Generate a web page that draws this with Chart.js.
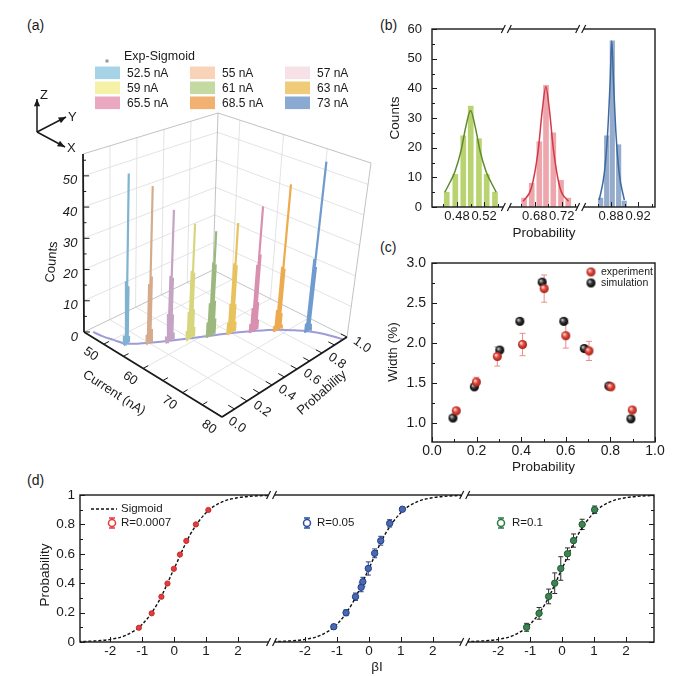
<!DOCTYPE html>
<html>
<head>
<meta charset="utf-8">
<title>Switching probability figure</title>
<script src="https://cdn.jsdelivr.net/npm/chart.js@4.4.1/dist/chart.umd.min.js"></script>
<style>
  html, body { margin: 0; padding: 0; background: #fff; }
  body { position: relative; width: 700px; height: 676px; overflow: hidden;
         font-family: "Liberation Sans", Arial, sans-serif; color: #1a1a1a; }
  canvas { position: absolute; }
  .tag { position: absolute; font-size: 14px; }
</style>
</head>
<body>
<div class="tag" style="left:27px;top:17px">(a)</div>
<div class="tag" style="left:380px;top:17px">(b)</div>
<div class="tag" style="left:380px;top:239px">(c)</div>
<div class="tag" style="left:27px;top:472px">(d)</div>
<canvas id="chartA" width="380" height="455" style="left:0;top:0"></canvas>
<canvas id="chartB" width="320" height="240" style="left:380px;top:0"></canvas>
<canvas id="chartC" width="320" height="240" style="left:380px;top:240px"></canvas>
<canvas id="chartD" width="700" height="211" style="left:0;top:465px"></canvas>
<script>
var FONT = '"Liberation Sans", Arial, sans-serif';
var INK = '#1a1a1a';

// ---------- (a) histograms per drive current ----------
var currents = [52.5, 55, 57, 59, 61, 63, 65.5, 68.5, 73];
var currentNames = ['52.5 nA', '55 nA', '57 nA', '59 nA', '61 nA', '63 nA', '65.5 nA', '68.5 nA', '73 nA'];
var meanProb = [0.1, 0.2, 0.3, 0.4, 0.5, 0.6, 0.7, 0.8, 0.9];
var spikeCounts = [
  [3, 20, 54, 18, 2],
  [3, 19, 50, 21, 4],
  [2, 9, 21, 42, 20, 8, 2],
  [3, 9, 22, 37, 21, 9, 3],
  [5, 11, 24, 34, 23, 11, 5],
  [4, 10, 23, 36, 22, 9, 3],
  [3, 8, 22, 41, 25, 9, 3],
  [2, 7, 21, 48, 20, 5, 1],
  [3, 24, 56, 21, 2]
];
var sigCurrent = [46, 48, 50, 52.5, 55, 57, 59, 61, 63, 65.5, 68.5, 71, 73, 76, 80];
var sigProb = [0.04, 0.05, 0.07, 0.1, 0.2, 0.3, 0.4, 0.5, 0.6, 0.7, 0.8, 0.86, 0.9, 0.94, 0.97];
var countTicks = [0, 10, 20, 30, 40, 50];
var currentTicks = [50, 60, 70, 80];
var probTicks = [0, 0.2, 0.4, 0.6, 0.8, 1];
var probTickLabels = ['0.0', '0.2', '0.4', '0.6', '0.8', '1.0'];

// ---------- (b) three histograms with fits ----------
var probGreen = [0.4648, 0.4775, 0.4893, 0.5003, 0.5125, 0.5239, 0.5362];
var countGreen = [5, 11, 24, 34, 23, 11, 5];
var probRed = [0.6642, 0.6756, 0.6868, 0.6967, 0.7075, 0.7189, 0.7297];
var countRed = [3, 8, 22, 41, 25, 9, 3];
var probBlue = [0.8646, 0.8735, 0.8818, 0.8912, 0.8995];
var countBlue = [3, 24, 56, 21, 2];
var fitGreenX = [0.462, 0.470, 0.477, 0.486, 0.493, 0.500, 0.507, 0.514, 0.523, 0.530, 0.538];
var fitGreenY = [5, 8.5, 12, 19, 27, 32.5, 27, 19, 12, 8.5, 5];
var fitRedX = [0.663, 0.675, 0.6852, 0.6913, 0.6965, 0.7017, 0.7078, 0.7175, 0.730];
var fitRedY = [1.9, 6.4, 19.2, 32.8, 40.5, 32.8, 19.2, 6.4, 1.9];
var fitBlueX = [0.8624, 0.870, 0.8749, 0.8785, 0.881, 0.8837, 0.8872, 0.892, 0.8996];
var fitBlueY = [2.3, 11.4, 24.9, 41.7, 56, 41.7, 24.9, 11.4, 2.3];
var bTicks = [0.48, 0.52, 0.68, 0.72, 0.88, 0.92];
var bTickLabels = ['0.48', '0.52', '0.68', '0.72', '0.88', '0.92'];
var bCountTicks = [0, 10, 20, 30, 40, 50, 60];

// ---------- (c) width vs probability ----------
var expProb = [0.109, 0.199, 0.293, 0.406, 0.503, 0.600, 0.704, 0.802, 0.898];
var expWidth = [1.15, 1.51, 1.83, 1.98, 2.68, 2.09, 1.90, 1.45, 1.16];
var expErr = [0, 0.06, 0.12, 0.14, 0.17, 0.155, 0.12, 0, 0];
var simProb = [0.094, 0.190, 0.304, 0.394, 0.494, 0.591, 0.683, 0.793, 0.892];
var simWidth = [1.06, 1.45, 1.91, 2.27, 2.76, 2.27, 1.93, 1.46, 1.05];
var cProbTicks = [0, 0.2, 0.4, 0.6, 0.8, 1];
var cWidthTicks = [1, 1.5, 2, 2.5, 3];

// ---------- (d) probability vs beta*I ----------
var sigX = [-3, -2.5, -2, -1.5, -1, -0.5, 0, 0.5, 1, 1.5, 2, 2.5, 3];
var sigP = [0.003, 0.007, 0.018, 0.047, 0.12, 0.27, 0.5, 0.73, 0.88, 0.953, 0.982, 0.993, 0.997];
var redX = [-1.105, -0.705, -0.40, -0.21, -0.01, 0.18, 0.38, 0.68, 1.07];
var redY = [0.097, 0.195, 0.308, 0.398, 0.498, 0.595, 0.688, 0.80, 0.898];
var blueX = [-1.10, -0.716, -0.42, -0.243, -0.19, -0.02, 0.18, 0.37, 0.65, 1.05];
var blueY = [0.104, 0.199, 0.308, 0.372, 0.41, 0.50, 0.603, 0.689, 0.807, 0.903];
var blueErr = [0.012, 0.02, 0.025, 0.03, 0.03, 0.045, 0.03, 0.03, 0.025, 0.012];
var greenX = [-1.11, -0.72, -0.42, -0.23, -0.04, 0.17, 0.36, 0.63, 1.02];
var greenY = [0.10, 0.195, 0.31, 0.40, 0.50, 0.60, 0.69, 0.80, 0.90];
var greenErr = [0.027, 0.04, 0.05, 0.07, 0.08, 0.04, 0.045, 0.035, 0.025];
var dXTicks = [-2, -1, 0, 1, 2];
var dPTicks = [0, 0.2, 0.4, 0.6, 0.8, 1];
var dPLabels = ['0', '0.2', '0.4', '0.6', '0.8', '1'];

// ---------- styles ----------
var spikeColors = ['#7fb3cf', '#d6ab8c', '#c4a3c4', '#d8d67c', '#9cb87e', '#e8c25c', '#d98fae', '#eeaa4e', '#6f9bcf'];
var legendColors = ['#a6d4e6', '#f8d3b8', '#f5e1e6', '#f5f2a8', '#c5d9a2', '#f0cb78', '#eaa8c0', '#f2b071', '#8aaad4'];

Chart.defaults.font.family = FONT;

function baseOptions(pad, xr, yr, yReverse) {
  return {
    responsive: false, animation: false, events: [],
    layout: { padding: pad },
    plugins: { legend: { display: false }, tooltip: { enabled: false } },
    scales: {
      x: { type: 'linear', display: false, min: xr[0], max: xr[1], offset: false },
      y: { type: 'linear', display: false, min: yr[0], max: yr[1], reverse: !!yReverse }
    }
  };
}

// frame + inward ticks + labels, shared by (b), (c), (d)
function frame(o) {
  return {
    id: 'frame',
    beforeDatasetsDraw: function (chart) { if (o.under) o.under(chart, chart.ctx); },
    afterDatasetsDraw: function (chart) {
      var c = chart.ctx, a = chart.chartArea, sx = chart.scales.x, sy = chart.scales.y;
      c.save();
      c.strokeStyle = INK; c.fillStyle = INK;
      c.lineWidth = 1.4;
      c.strokeRect(a.left, a.top, a.right - a.left, a.bottom - a.top);
      c.lineWidth = 1; c.beginPath();
      function yt(v, len) {
        var y = Math.round(sy.getPixelForValue(v)) + 0.5;
        c.moveTo(a.left, y); c.lineTo(a.left + len, y);
        if (o.right) { c.moveTo(a.right, y); c.lineTo(a.right - len, y); }
      }
      function xt(u, len) {
        var x = Math.round(sx.getPixelForValue(u)) + 0.5;
        c.moveTo(x, a.bottom); c.lineTo(x, a.bottom - len);
      }
      o.yTicks.forEach(function (v) { yt(v, 5); });
      (o.yMinor || []).forEach(function (v) { yt(v, 3); });
      o.xTicks.forEach(function (t) { xt(t[0], 5); });
      (o.xMinor || []).forEach(function (u) { xt(u, 3); });
      c.stroke();
      (o.breaks || []).forEach(function (u) {
        var x = sx.getPixelForValue(u);
        [a.top, a.bottom].forEach(function (y) {
          c.fillStyle = '#fff'; c.fillRect(x - 3, y - 3, 6, 6);
          c.beginPath();
          c.moveTo(x - 5, y + 4); c.lineTo(x - 1, y - 4);
          c.moveTo(x + 1, y + 4); c.lineTo(x + 5, y - 4);
          c.lineWidth = 1.2; c.stroke();
        });
      });
      c.fillStyle = INK;
      c.font = o.tickFont; c.textAlign = 'right'; c.textBaseline = 'middle';
      o.yTicks.forEach(function (v, i) { c.fillText(o.yLabels[i], a.left - o.yGap, sy.getPixelForValue(v)); });
      c.textAlign = 'center'; c.textBaseline = 'top';
      o.xTicks.forEach(function (t) { c.fillText(t[1], sx.getPixelForValue(t[0]), a.bottom + o.xGap); });
      c.font = o.titleFont; c.textBaseline = 'middle';
      c.fillText(o.xTitle[0], o.xTitle[1], o.xTitle[2]);
      c.save(); c.translate(o.yTitle[1], o.yTitle[2]); c.rotate(-Math.PI / 2);
      c.fillText(o.yTitle[0], 0, 0); c.restore();
      if (o.extra) o.extra(chart, c);
      c.restore();
    }
  };
}

function errorBars(c, sx, sy, xs, ys, errs, color, cap) {
  c.save();
  c.strokeStyle = color; c.lineWidth = 1;
  c.beginPath();
  xs.forEach(function (x, i) {
    if (!errs[i]) return;
    var px = sx.getPixelForValue(x), y1 = sy.getPixelForValue(ys[i] - errs[i]), y2 = sy.getPixelForValue(ys[i] + errs[i]);
    c.moveTo(px, y1); c.lineTo(px, y2);
    c.moveTo(px - cap, y1); c.lineTo(px + cap, y1);
    c.moveTo(px - cap, y2); c.lineTo(px + cap, y2);
  });
  c.stroke();
  c.restore();
}

// ================= (a) =================
var iMin = 45, iMax = 80, cTop = 57;
// floor (count 0) and top corners: a=(iMin,p0) b=(iMax,p0) c=(iMin,p1) d=(iMax,p1)
var FL = { a: [84, 332], b: [222, 417], c: [213, 270], d: [347, 337] };
var TP = { a: [83, 154], b: [234, 222], c: [218, 113], d: [371, 163] };
function proj(I, p, n) {
  var u = (I - iMin) / (iMax - iMin), w = p, h = n / cTop;
  var k = [(1 - u) * (1 - w), u * (1 - w), (1 - u) * w, u * w];
  function mix(S, j) { return k[0] * S.a[j] + k[1] * S.b[j] + k[2] * S.c[j] + k[3] * S.d[j]; }
  var fx = mix(FL, 0), fy = mix(FL, 1);
  return { x: fx + (mix(TP, 0) - fx) * h, y: fy + (mix(TP, 1) - fy) * h };
}

var binStep = 0.01;
var setsA = currents.map(function (I, i) {
  var pts = [], n = spikeCounts[i].length;
  spikeCounts[i].forEach(function (cnt, k) {
    var p = meanProb[i] + (k - (n - 1) / 2) * binStep;
    pts.push(proj(I, p, 0), proj(I, p, cnt), { x: 0, y: null });
  });
  return { data: pts, showLine: true, borderColor: spikeColors[i], borderWidth: 2.2,
           borderCapStyle: 'butt', pointRadius: 0, spanGaps: false, order: 10 };
});
setsA.push({
  data: sigCurrent.map(function (I, i) { return proj(I, sigProb[i], 0); }),
  showLine: true, borderColor: '#9c9cd8', borderWidth: 2, pointRadius: 0, tension: 0.4, order: 50
});

var boxA = {
  id: 'box3d',
  beforeDatasetsDraw: function (chart) {
    var c = chart.ctx, sx = chart.scales.x, sy = chart.scales.y;
    function P(I, p, n) { var q = proj(I, p, n); return [sx.getPixelForValue(q.x), sy.getPixelForValue(q.y)]; }
    function seg(a, b) { c.moveTo(a[0], a[1]); c.lineTo(b[0], b[1]); }
    c.save();
    c.strokeStyle = '#dcdcdc'; c.lineWidth = 0.8; c.beginPath();
    [50, 60, 70].forEach(function (I) { seg(P(I, 0, 0), P(I, 1, 0)); seg(P(I, 1, 0), P(I, 1, cTop)); });
    [0.2, 0.4, 0.6, 0.8].forEach(function (p) { seg(P(iMin, p, 0), P(iMax, p, 0)); seg(P(iMin, p, 0), P(iMin, p, cTop)); });
    [10, 20, 30, 40, 50].forEach(function (n) { seg(P(iMin, 0, n), P(iMin, 1, n)); seg(P(iMin, 1, n), P(iMax, 1, n)); });
    c.stroke();
    c.strokeStyle = '#b2b2b2'; c.beginPath();
    seg(P(iMin, 0, 0), P(iMin, 1, 0)); seg(P(iMin, 1, 0), P(iMax, 1, 0));
    seg(P(iMin, 1, 0), P(iMin, 1, cTop)); seg(P(iMax, 1, 0), P(iMax, 1, cTop));
    seg(P(iMin, 0, cTop), P(iMin, 1, cTop)); seg(P(iMin, 1, cTop), P(iMax, 1, cTop));
    c.stroke();
    c.restore();
  },
  afterDatasetsDraw: function (chart) {
    var c = chart.ctx, sx = chart.scales.x, sy = chart.scales.y;
    function P(I, p, n) { var q = proj(I, p, n); return [sx.getPixelForValue(q.x), sy.getPixelForValue(q.y)]; }
    function seg(a, b) { c.moveTo(a[0], a[1]); c.lineTo(b[0], b[1]); }
    function rotText(t, x, y, deg) { c.save(); c.translate(x, y); c.rotate(deg * Math.PI / 180); c.fillText(t, 0, 0); c.restore(); }
    c.save();
    // axes
    c.strokeStyle = INK; c.lineWidth = 1.8; c.beginPath();
    seg(P(iMin, 0, 0), P(iMin, 0, cTop)); seg(P(iMin, 0, 0), P(iMax, 0, 0)); seg(P(iMax, 0, 0), P(iMax, 1, 0));
    c.stroke();
    c.lineWidth = 1; c.beginPath();
    for (var n = 0; n <= 55; n += 5) { var q = P(iMin, 0, n); c.moveTo(q[0], q[1]); c.lineTo(q[0] + (n % 10 ? 3 : 6), q[1]); }
    for (var I = 50; I <= 80; I += 5) seg(P(I, 0, 0), P(I, 0.04, 0));
    for (var t = 0; t <= 10; t++) seg(P(iMax, t / 10, 0), P(iMax - 1.6, t / 10, 0));
    c.stroke();
    // tick labels
    c.fillStyle = INK; c.font = 'italic 13px ' + FONT;
    c.textAlign = 'right'; c.textBaseline = 'middle';
    countTicks.forEach(function (v) { var q = P(iMin, 0, v); c.fillText(String(v), q[0] - 6, q[1] + 5); });
    c.font = '13px ' + FONT; c.textAlign = 'center';
    currentTicks.forEach(function (v) { var q = P(v, 0, 0); rotText(String(v), q[0] - 13, q[1] + 10, 35); });
    probTicks.forEach(function (v, i) { var q = P(iMax, v, 0); rotText(probTickLabels[i], q[0] + 15, q[1] + 8, 35); });
    rotText('Counts', 52, 262, -85);
    rotText('Current (nA)', 114, 393, 33);
    rotText('Probability', 322, 393, -41);
    // legend
    c.textAlign = 'left'; c.font = '12.5px ' + FONT;
    c.fillStyle = '#999'; c.fillRect(105.5, 59.5, 3, 3);
    c.fillStyle = INK; c.fillText('Exp-Sigmoid', 124, 57);
    var colX = [95, 190, 285], rowY = [72.8, 87.8, 102.8];
    c.font = '12px ' + FONT;
    currentNames.forEach(function (name, i) {
      var x = colX[i % 3], y = rowY[Math.floor(i / 3)];
      c.fillStyle = legendColors[i]; c.fillRect(x, y - 6.3, 25, 12.6);
      c.fillStyle = INK; c.fillText(name, x + 32, y + 0.5);
    });
    // orientation triad
    var o = [37, 132];
    function arrow(tx, ty) {
      c.beginPath(); c.moveTo(o[0], o[1]); c.lineTo(tx, ty); c.stroke();
      var ang = Math.atan2(ty - o[1], tx - o[0]);
      c.beginPath(); c.moveTo(tx, ty);
      c.lineTo(tx - 8 * Math.cos(ang - 0.4), ty - 8 * Math.sin(ang - 0.4));
      c.lineTo(tx - 8 * Math.cos(ang + 0.4), ty - 8 * Math.sin(ang + 0.4));
      c.closePath(); c.fill();
    }
    c.strokeStyle = INK; c.lineWidth = 1.5;
    arrow(37, 99); arrow(66, 117); arrow(65, 147);
    c.font = '13px ' + FONT; c.textAlign = 'left';
    c.fillText('Z', 40, 95); c.fillText('Y', 68, 117); c.fillText('X', 67, 148);
    c.restore();
  }
};

var optA = baseOptions(0, [0, 380], [0, 455], true);
new Chart(document.getElementById('chartA'), { type: 'scatter', data: { datasets: setsA }, options: optA, plugins: [boxA] });

// ================= (b) =================
var segStartB = [0.443, 0.638, 0.835], segLenB = 0.11;
function toB(v, k) { return k * segLenB + v - segStartB[k]; }
function barSet(xs, ys, k, col, w) {
  return { type: 'bar', data: xs.map(function (x, i) { return { x: toB(x, k), y: ys[i] }; }),
           backgroundColor: col, borderWidth: 0, barThickness: w, grouped: false, order: 2 };
}
function fitSet(xs, ys, k, col) {
  return { type: 'line', data: xs.map(function (x, i) { return { x: toB(x, k), y: ys[i] }; }),
           borderColor: col, borderWidth: 1.5, pointRadius: 0, cubicInterpolationMode: 'monotone', order: 1 };
}
var bTickSeg = [0, 0, 1, 1, 2, 2];
var optB = baseOptions({ left: 52, right: 45, top: 29, bottom: 33 }, [0, 3 * segLenB], [0, 60]);
new Chart(document.getElementById('chartB'), {
  type: 'bar',
  data: { datasets: [
    barSet(probGreen, countGreen, 0, '#b8d36f', 5),
    barSet(probRed, countRed, 1, '#eda6ac', 5),
    barSet(probBlue, countBlue, 2, '#94abcc', 4.5),
    fitSet(fitGreenX, fitGreenY, 0, '#5f8a30'),
    fitSet(fitRedX, fitRedY, 1, '#d23a48'),
    fitSet(fitBlueX, fitBlueY, 2, '#3d6aa3')
  ] },
  options: optB,
  plugins: [frame({
    yTicks: bCountTicks, yLabels: bCountTicks.map(String), yMinor: [5, 15, 25, 35, 45, 55],
    xTicks: bTicks.map(function (v, i) { return [toB(v, bTickSeg[i]), bTickLabels[i]]; }),
    xMinor: [toB(0.46, 0), toB(0.50, 0), toB(0.54, 0), toB(0.66, 1), toB(0.70, 1), toB(0.74, 1), toB(0.86, 2), toB(0.90, 2), toB(0.94, 2)],
    breaks: [segLenB, 2 * segLenB],
    tickFont: '13px ' + FONT, titleFont: '13.5px ' + FONT, yGap: 10, xGap: 3,
    xTitle: ['Probability', 164, 233], yTitle: ['Counts', 15, 118]
  })]
});

// ================= (c) =================
function sphere(c1, c2, c3, r) {
  var cv = document.createElement('canvas');
  cv.width = cv.height = 2 * r + 2;
  var g = cv.getContext('2d'), m = r + 1;
  var gr = g.createRadialGradient(m - r * 0.35, m - r * 0.35, r * 0.1, m, m, r);
  gr.addColorStop(0, c1); gr.addColorStop(0.45, c2); gr.addColorStop(1, c3);
  g.fillStyle = gr; g.beginPath(); g.arc(m, m, r, 0, Math.PI * 2); g.fill();
  return cv;
}
var redBall = sphere('#ffd6cc', '#e4483e', '#9e1f17', 4.5);
var blackBall = sphere('#c4c4c4', '#333', '#000', 4.5);
var optC = baseOptions({ left: 52, right: 45, top: 23, bottom: 38 }, [0, 1], [0.76, 3.0]);
new Chart(document.getElementById('chartC'), {
  type: 'scatter',
  data: { datasets: [
    { label: 'experiment', data: expProb.map(function (x, i) { return { x: x, y: expWidth[i] }; }),
      pointStyle: redBall, pointRadius: 5, order: 1 },
    { label: 'simulation', data: simProb.map(function (x, i) { return { x: x, y: simWidth[i] }; }),
      pointStyle: blackBall, pointRadius: 5, order: 2 }
  ] },
  options: optC,
  plugins: [frame({
    under: function (chart, c) { errorBars(c, chart.scales.x, chart.scales.y, expProb, expWidth, expErr, '#e88e8e', 3); },
    yTicks: cWidthTicks, yLabels: ['1.0', '1.5', '2.0', '2.5', '3.0'], yMinor: [1.25, 1.75, 2.25, 2.75],
    xTicks: cProbTicks.map(function (v) { return [v, v.toFixed(1)]; }), xMinor: [0.1, 0.3, 0.5, 0.7, 0.9],
    tickFont: '14px ' + FONT, titleFont: '13.5px ' + FONT, yGap: 6, xGap: 2,
    xTitle: ['Probability', 163.5, 227], yTitle: ['Width (%)', 13, 112],
    extra: function (chart, c) {
      c.drawImage(redBall, 211 - 5.5, 32 - 5.5);
      c.drawImage(blackBall, 211 - 5.5, 43 - 5.5);
      c.font = '10.5px ' + FONT; c.textAlign = 'left'; c.textBaseline = 'middle';
      c.fillText('experiment', 221, 32); c.fillText('simulation', 221, 43);
    }
  })]
});

// ================= (d) =================
var segMinD = [-2.95, -3.05, -3.05], segMaxD = [3.05, 3.0, 2.88], segOffD = [0, 6, 12.05];
function toD(v, k) { return segOffD[k] + v - segMinD[k]; }
var totalD = segOffD[2] + segMaxD[2] - segMinD[2];
function curveSet(k) {
  return { data: sigX.map(function (x, i) { return { x: toD(x, k), y: sigP[i] }; }), showLine: true,
           borderColor: '#111', borderWidth: 1.4, borderDash: [3, 2], pointRadius: 0,
           cubicInterpolationMode: 'monotone', order: 5 };
}
function pointSet(xs, ys, k, fill, edge, r) {
  return { data: xs.map(function (x, i) { return { x: toD(x, k), y: ys[i] }; }),
           pointRadius: r, backgroundColor: fill, borderColor: edge, borderWidth: 1, order: 1 };
}
var xTicksD = [];
[0, 1, 2].forEach(function (k) { dXTicks.forEach(function (v) { xTicksD.push([toD(v, k), String(v)]); }); });
function legendMark(c, x, y, col) {
  c.strokeStyle = col; c.lineWidth = 1.5;
  c.beginPath(); c.moveTo(x, y - 5); c.lineTo(x, y + 5);
  c.moveTo(x - 3, y - 5); c.lineTo(x + 3, y - 5); c.moveTo(x - 3, y + 5); c.lineTo(x + 3, y + 5); c.stroke();
  c.fillStyle = '#fff'; c.beginPath(); c.arc(x, y, 3.5, 0, Math.PI * 2); c.fill(); c.stroke();
}
var optD = baseOptions({ left: 80, right: 46, top: 30, bottom: 34 }, [0, totalD], [0, 1]);
new Chart(document.getElementById('chartD'), {
  type: 'scatter',
  data: { datasets: [
    curveSet(0), curveSet(1), curveSet(2),
    pointSet(redX, redY, 0, '#e33c3c', '#c42a2a', 2.6),
    pointSet(blueX, blueY, 1, '#4a69b2', '#223f8a', 3.2),
    pointSet(greenX, greenY, 2, '#3e8452', '#1f5a30', 3.2)
  ] },
  options: optD,
  plugins: [frame({
    under: function (chart, c) {
      var sx = chart.scales.x, sy = chart.scales.y;
      errorBars(c, sx, sy, blueX.map(function (x) { return toD(x, 1); }), blueY, blueErr, '#2b3f7a', 2.5);
      errorBars(c, sx, sy, greenX.map(function (x) { return toD(x, 2); }), greenY, greenErr, '#2a2a2a', 2.5);
    },
    right: true,
    yTicks: dPTicks, yLabels: dPLabels, yMinor: [0.1, 0.3, 0.5, 0.7, 0.9],
    xTicks: xTicksD,
    breaks: [segOffD[1], segOffD[2]],
    tickFont: '13.5px ' + FONT, titleFont: '13.5px ' + FONT, yGap: 5, xGap: 3,
    xTitle: ['\u03b2I', 377, 202], yTitle: ['Probability', 45, 110],
    extra: function (chart, c) {
      c.strokeStyle = '#111'; c.lineWidth = 1.4; c.setLineDash([3, 2]);
      c.beginPath(); c.moveTo(91, 44); c.lineTo(117, 44); c.stroke(); c.setLineDash([]);
      c.font = '11.5px ' + FONT; c.textAlign = 'left'; c.textBaseline = 'middle'; c.fillStyle = INK;
      c.fillText('Sigmoid', 121, 44);
      legendMark(c, 112, 58, '#e33c3c'); legendMark(c, 307, 58, '#2f4f9e'); legendMark(c, 501, 58, '#2f7a45');
      c.fillStyle = INK;
      c.fillText('R=0.0007', 121, 58); c.fillText('R=0.05', 317, 58); c.fillText('R=0.1', 512, 58);
    }
  })]
});
</script>
</body>
</html>
